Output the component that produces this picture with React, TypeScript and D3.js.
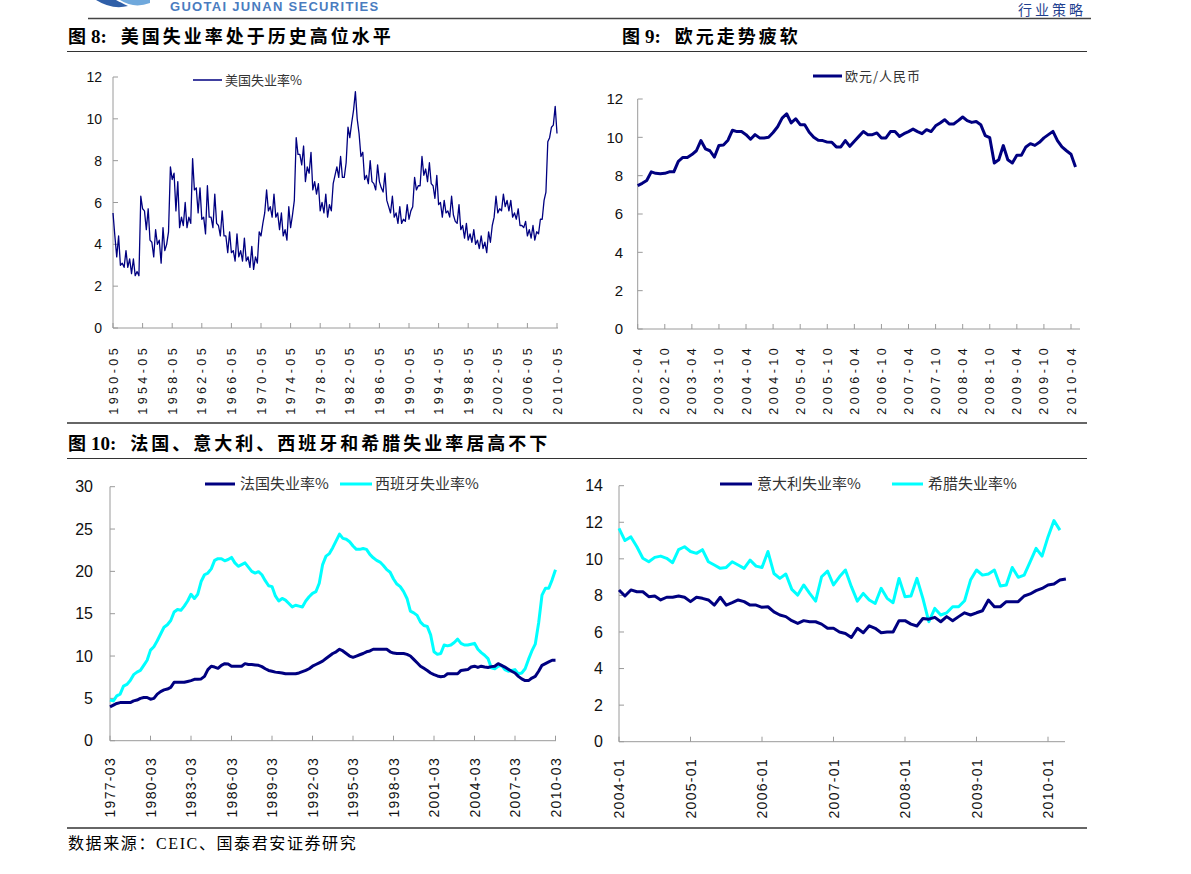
import React from 'react';
import * as d3 from 'd3';

// ---------- DATA ----------
// US unemployment (NSA), sampled every 3 months from 1950-05 (Feb/May/Aug/Nov)
const usStartYear = 1950;
const usStartMonth = 5;
const usValues = [
  5.5, 4.4, 3.4,
  4.4, 3.0, 3.1, 2.9,
  3.7, 2.9, 3.3, 2.6,
  3.3, 2.5, 2.7, 2.5,
  6.3, 5.7, 5.6, 4.7,
  5.7, 4.2, 4.1, 3.4,
  4.7, 4.0, 4.2, 3.1,
  4.8, 3.7, 4.0, 4.6,
  7.7, 7.1, 7.4, 5.6,
  7.0, 4.8, 5.3, 4.9,
  6.0, 4.8, 5.3, 5.0,
  8.1, 6.6, 6.7, 5.5,
  6.7, 5.2, 5.3, 4.5,
  6.8, 5.3, 5.3, 4.8,
  6.4, 5.0, 4.9, 4.4,
  5.6, 4.4, 4.4, 3.6,
  4.6, 3.6, 3.7, 3.2,
  4.5, 3.4, 3.7, 3.2,
  4.3, 3.2, 3.4, 2.9,
  3.9, 2.8, 3.4, 3.1,
  4.6, 4.4, 5.0, 5.5,
  6.6, 5.6, 5.8, 5.3,
  6.4, 5.3, 5.5, 4.7,
  5.5, 4.4, 4.7, 4.2,
  5.8, 4.8, 5.4, 6.1,
  9.1, 8.3, 8.3, 7.8,
  8.7, 7.0, 7.7, 7.4,
  8.4, 6.6, 7.0, 6.4,
  6.9, 5.6, 6.0, 5.5,
  6.4, 5.3, 5.9, 5.6,
  6.9, 7.3, 7.7, 7.2,
  8.2, 7.2, 7.2, 7.9,
  9.6, 9.1, 9.8, 10.4,
  11.3, 10.0, 9.3, 8.2,
  8.4, 7.1, 7.3, 6.9,
  8.0, 7.0, 6.9, 6.6,
  7.8, 7.0, 6.7, 6.5,
  7.4, 6.1, 5.8, 5.5,
  6.3, 5.3, 5.5, 5.0,
  5.8, 5.0, 5.2, 5.1,
  5.9, 5.2, 5.6, 5.8,
  7.2, 6.6, 6.8, 6.8,
  8.2, 7.3, 7.6, 7.0,
  7.9, 6.9, 6.8, 6.2,
  7.3, 5.9, 6.0, 5.3,
  6.1, 5.5, 5.6, 5.3,
  6.3, 5.4, 5.1, 5.0,
  5.9, 4.7, 4.9, 4.3,
  5.0, 4.2, 4.5, 4.1,
  4.7, 4.0, 4.2, 3.8,
  4.4, 3.8, 4.1, 3.6,
  4.6, 4.1, 4.9, 5.3,
  6.3, 5.5, 5.7, 5.6,
  6.4, 5.8, 6.1, 5.6,
  6.1, 5.3, 5.5, 5.2,
  5.7, 4.9, 4.9, 4.8,
  5.1, 4.4, 4.7, 4.3,
  4.9, 4.2, 4.6, 4.5,
  5.2, 5.2, 6.1, 6.5,
  8.9, 9.1, 9.6, 9.7,
  10.6, 9.3,
];
const usTickLabels = ['1950-05', '1954-05', '1958-05', '1962-05', '1966-05', '1970-05', '1974-05', '1978-05',
  '1982-05', '1986-05', '1990-05', '1994-05', '1998-05', '2002-05', '2006-05', '2010-05'];
const usYTicks = [0, 2, 4, 6, 8, 10, 12];

// EUR/CNY monthly from 2002-04
const eurValues = [
  7.48, 7.6, 7.75, 8.2, 8.12, 8.1, 8.12, 8.2, 8.2, 8.75, 8.95, 8.95,
  9.1, 9.3, 9.83, 9.4, 9.3, 8.97, 9.58, 9.6, 9.85, 10.37, 10.3, 10.3,
  10.14, 9.9, 10.14, 9.97, 9.97, 10.0, 10.25, 10.55, 11.0, 11.23, 10.75, 10.97,
  10.66, 10.66, 10.26, 10.0, 9.85, 9.83, 9.75, 9.74, 9.5, 9.5, 9.83, 9.53,
  9.8, 10.05, 10.3, 10.14, 10.14, 10.23, 9.97, 9.97, 10.3, 10.3, 10.05, 10.19,
  10.3, 10.43, 10.3, 10.19, 10.4, 10.3, 10.6, 10.75, 10.92, 10.7, 10.7, 10.87,
  11.06, 10.87, 10.78, 10.83, 10.66, 10.09, 9.98, 8.66, 8.83, 9.57, 8.83, 8.66,
  9.06, 9.06, 9.5, 9.67, 9.58, 9.74, 9.97, 10.14, 10.31, 9.83, 9.5, 9.3,
  9.12, 8.45,
];
const eurTickLabels = ['2002-04', '2002-10', '2003-04', '2003-10', '2004-04', '2004-10', '2005-04', '2005-10',
  '2006-04', '2006-10', '2007-04', '2007-10', '2008-04', '2008-10', '2009-04', '2009-10', '2010-04'];
const eurYTicks = [0, 2, 4, 6, 8, 10, 12];

// France & Spain quarterly from 1977-03
const frValues = [
  4.0, 4.2, 4.4, 4.5, 4.5, 4.5, 4.5, 4.7, 4.8, 5.0, 5.1, 5.1,
  4.9, 5.0, 5.5, 5.8, 6.0, 6.1, 6.3, 6.9, 6.9, 6.9, 6.9, 7.0,
  7.1, 7.25, 7.25, 7.3, 7.6, 8.4, 8.8, 8.7, 8.55, 8.9, 9.1, 9.05,
  8.8, 8.8, 8.8, 8.8, 9.1, 9.0, 9.0, 8.95, 8.9, 8.75, 8.5, 8.3,
  8.2, 8.1, 8.05, 8.0, 7.9, 7.9, 7.9, 7.9, 8.0, 8.15, 8.3, 8.5,
  8.8, 9.0, 9.2, 9.4, 9.7, 10.0, 10.3, 10.5, 10.8, 10.6, 10.3, 10.0,
  9.85, 10.0, 10.15, 10.3, 10.5, 10.6, 10.8, 10.8, 10.8, 10.8, 10.8, 10.5,
  10.35, 10.3, 10.3, 10.3, 10.2, 10.0, 9.6, 9.2, 8.8, 8.55, 8.3, 8.0,
  7.8, 7.65, 7.55, 7.6, 7.9, 7.9, 7.9, 7.9, 8.3, 8.35, 8.4, 8.7,
  8.8, 8.65, 8.8, 8.7, 8.65, 8.75, 8.8, 9.1, 8.9, 8.7, 8.45, 8.2,
  8.0, 7.6, 7.3, 7.1, 7.1, 7.4, 7.6, 8.2, 8.9, 9.1, 9.3, 9.5,
  9.5,
];
const esValues = [
  4.8, 4.7, 5.3, 5.5, 6.45, 6.65, 7.1, 7.8, 8.1, 8.3, 8.9, 9.5,
  10.7, 11.1, 11.8, 12.6, 13.4, 13.7, 14.2, 15.2, 15.5, 15.4, 15.9, 16.5,
  17.3, 16.8, 17.3, 18.8, 19.6, 19.8, 20.3, 21.3, 21.5, 21.5, 21.25, 21.4,
  21.65, 21.0, 20.6, 20.8, 21.0, 20.5, 20.0, 19.8, 19.96, 19.6, 18.9, 18.3,
  18.2, 17.1, 16.5, 16.8, 16.6, 16.2, 15.8, 16.0, 15.9, 15.8, 16.5, 17.0,
  17.4, 17.6, 18.6, 20.8, 21.8, 22.1, 22.8, 23.6, 24.4, 23.9, 23.8, 23.5,
  23.0, 22.6, 22.6, 22.7, 22.6, 22.0, 21.6, 21.3, 21.1, 20.7, 20.2, 19.9,
  19.1, 18.5, 18.2, 17.6, 16.8, 15.3, 15.1, 14.8, 14.0, 13.6, 13.5, 12.5,
  10.5, 10.2, 10.3, 11.3, 11.2, 11.3, 11.6, 12.0, 11.5, 11.3, 11.3, 11.4,
  11.5, 10.8, 10.4, 10.1, 9.7, 8.6, 8.5, 8.8, 8.9, 8.4, 8.2, 8.3,
  8.4, 7.9, 8.0, 8.5, 9.6, 10.6, 11.4, 13.9, 17.2, 18.0, 18.0, 19.0,
  20.2,
];
const feTickLabels = ['1977-03', '1980-03', '1983-03', '1986-03', '1989-03', '1992-03', '1995-03', '1998-03',
  '2001-03', '2004-03', '2007-03', '2010-03'];
const feYTicks = [0, 5, 10, 15, 20, 25, 30];

// Italy & Greece monthly from 2004-01
const itValues = [
  8.3, 7.97, 8.3, 8.2, 8.2, 7.93, 7.97, 7.75, 7.9, 7.9, 7.97, 7.9,
  7.66, 7.9, 7.84, 7.75, 7.47, 7.9, 7.47, 7.6, 7.75, 7.66, 7.47, 7.47,
  7.35, 7.38, 7.1, 6.93, 6.84, 6.62, 6.47, 6.62, 6.56, 6.56, 6.43, 6.2,
  6.2, 6.0, 5.92, 5.7, 6.2, 5.96, 6.34, 6.2, 5.96, 6.0, 6.0, 6.62,
  6.62, 6.43, 6.33, 6.74, 6.7, 6.8, 6.56, 6.84, 6.62, 6.84, 7.05, 6.93,
  7.05, 7.16, 7.75, 7.38, 7.38, 7.66, 7.66, 7.66, 7.97, 8.08, 8.26, 8.38,
  8.57, 8.62, 8.84, 8.9,
];
const grValues = [
  11.67, 11.0, 11.2, 10.66, 10.03, 9.84, 10.08, 10.15, 10.03, 9.79, 10.5, 10.66,
  10.4, 10.3, 10.5, 9.84, 9.66, 9.48, 9.53, 9.84, 9.66, 9.48, 9.93, 9.6,
  9.53, 10.4, 9.2, 8.93, 9.17, 8.33, 8.02, 8.57, 8.11, 7.69, 9.02, 9.33,
  8.57, 9.02, 9.39, 8.48, 7.69, 8.11, 7.75, 7.56, 8.39, 7.84, 7.6, 8.93,
  7.93, 7.97, 8.93, 7.84, 6.56, 7.29, 6.93, 7.05, 7.38, 7.38, 7.71, 8.84,
  9.39, 9.11, 9.17, 9.39, 8.51, 8.57, 9.53, 8.99, 9.11, 9.84, 10.57, 10.15,
  11.2, 12.09, 11.57,
];
const igTickLabels = ['2004-01', '2005-01', '2006-01', '2007-01', '2008-01', '2009-01', '2010-01'];
const igYTicks = [0, 2, 4, 6, 8, 10, 12, 14];

// ---------- STYLE ----------
const NAVY = '#000080';
const CYAN = '#00FFFF';
const AXIS = '#9a9a9a';
const NUM_FONT = '"Liberation Sans", Arial, sans-serif';
const CJK_FONT = '"Noto Sans CJK SC", "Noto Sans", sans-serif';
const TITLE_FONT = '"Liberation Serif", "Noto Sans CJK SC", serif';

type YAxisProps = { x: number; scale: d3.ScaleLinear<number, number>; ticks: number[]; fontSize: number; gap: number };
function YAxis({ x, scale, ticks, fontSize, gap }: YAxisProps) {
  return (
    <g>
      <line x1={x} x2={x} y1={scale(ticks[ticks.length - 1])} y2={scale(0)} stroke={AXIS} strokeWidth={1} />
      {ticks.map((t) => (
        <g key={t}>
          <line x1={x} x2={x + 5} y1={scale(t)} y2={scale(t)} stroke={AXIS} />
          <text x={x - gap} y={scale(t)} dy="0.36em" textAnchor="end" fontSize={fontSize} fontFamily={NUM_FONT} fill="#111">
            {t}
          </text>
        </g>
      ))}
    </g>
  );
}

type XAxisProps = {
  y: number; x0: number; x1: number; positions: number[]; labels: string[];
  labelTop: number; fontSize: number; spacing: number;
};
function XAxis({ y, x0, x1, positions, labels, labelTop, fontSize, spacing }: XAxisProps) {
  return (
    <g>
      <line x1={x0} x2={x1} y1={y} y2={y} stroke={AXIS} />
      {positions.map((p, i) => (
        <g key={i}>
          <line x1={p} x2={p} y1={y} y2={y - 5} stroke={AXIS} />
          <text
            transform={`translate(${p},${labelTop}) rotate(-90)`}
            textAnchor="end"
            dy="0.36em"
            fontSize={fontSize}
            letterSpacing={spacing}
            fontFamily={NUM_FONT}
            fill="#111"
          >
            {labels[i]}
          </text>
        </g>
      ))}
    </g>
  );
}

function Title({ x, y, num, text }: { x: number; y: number; num: string; text: string }) {
  return (
    <text x={x} y={y} fontSize={18} fontFamily={TITLE_FONT} fill="#000">
      <tspan fontFamily={CJK_FONT} fontWeight="bold">图</tspan>
      <tspan dx={5} fontWeight="bold" fontFamily='"Liberation Serif", serif' fontSize={19}>{num}:</tspan>
      <tspan dx={14} fontFamily={CJK_FONT} fontWeight="bold" letterSpacing={3}>{text}</tspan>
    </text>
  );
}

export default function App() {
  // Panel 1: US unemployment
  const usDates = usValues.map((_, i) => new Date(usStartYear, usStartMonth - 1 + 3 * i, 1));
  const usX = d3.scaleTime().domain([new Date(1950, 4, 1), new Date(2010, 4, 1)]).range([113, 557]);
  const usY = d3.scaleLinear().domain([0, 12]).range([328, 77]);
  const usLine = d3.line<number>().x((_, i) => usX(usDates[i])).y((d) => usY(d));
  const usTickPos = usTickLabels.map((l) => {
    const [yy, mm] = l.split('-').map(Number);
    return usX(new Date(yy, mm - 1, 1));
  });

  // Panel 2: EUR/CNY
  const eurX = d3.scaleLinear().domain([0, 96]).range([637.7, 1071]);
  const eurY = d3.scaleLinear().domain([0, 12]).range([329, 99]);
  const eurLine = d3.line<number>().x((_, i) => eurX(i)).y((d) => eurY(d));
  const eurTickPos = eurTickLabels.map((_, i) => eurX(i * 6));

  // Panel 3: France / Spain
  const feX = d3.scaleLinear().domain([0, 132]).range([110, 555.5]);
  const feY = d3.scaleLinear().domain([0, 30]).range([740.7, 486.7]);
  const feLine = d3.line<number>().x((_, i) => feX(i)).y((d) => feY(d));
  const feTickPos = feTickLabels.map((_, i) => feX(i * 12));

  // Panel 4: Italy / Greece
  const igX = d3.scaleLinear().domain([0, 72]).range([619, 1048]);
  const igY = d3.scaleLinear().domain([0, 14]).range([741.7, 485.7]);
  const igLine = d3.line<number>().x((_, i) => igX(i)).y((d) => igY(d));
  const igTickPos = igTickLabels.map((_, i) => igX(i * 12));

  return (
    <svg
      width={1191}
      height={874}
      viewBox="0 0 1191 874"
      style={{ position: 'absolute', left: 0, top: 0, background: '#fff' }}
    >
      <rect x={0} y={0} width={1191} height={874} fill="#fff" />

      {/* header */}
      <path d="M96,0 Q112,10 128,6 Q120,2 116,0 Z" fill="#2f5fa8" />
      <path d="M120,0 Q134,9 150,3 L150,0 Z" fill="#6fa8dc" />
      <text x={170} y={11} fontSize={13} fontWeight="bold" fontFamily={NUM_FONT} fill="#4a7cbf" letterSpacing={1.3}>
        GUOTAI JUNAN SECURITIES
      </text>
      <text x={1018} y={15} fontSize={14} fontFamily={CJK_FONT} fill="#1f3f8f" letterSpacing={3}>行业策略</text>
      <line x1={88} x2={1091} y1={18.5} y2={18.5} stroke="#444" strokeWidth={1.5} />

      {/* titles */}
      <Title x={68} y={43} num="8" text="美国失业率处于历史高位水平" />
      <Title x={622} y={43} num="9" text="欧元走势疲软" />
      <line x1={67} x2={1087} y1={51.5} y2={51.5} stroke="#333" strokeWidth={1} />

      {/* Panel 1 */}
      <YAxis x={113} scale={usY} ticks={usYTicks} fontSize={14} gap={11} />
      <XAxis y={328} x0={113} x1={558} positions={usTickPos} labels={usTickLabels} labelTop={345} fontSize={12.5} spacing={3.4} />
      <path d={usLine(usValues) || ''} fill="none" stroke={NAVY} strokeWidth={1.3} strokeLinejoin="round" />
      <line x1={193} x2={222} y1={80} y2={80} stroke={NAVY} strokeWidth={1.5} />
      <text x={225} y={80} dy="0.36em" fontSize={13} fontFamily={CJK_FONT} fill="#333">美国失业率%</text>

      {/* Panel 2 */}
      <YAxis x={637.7} scale={eurY} ticks={eurYTicks} fontSize={15} gap={14.5} />
      <XAxis y={329} x0={637.7} x1={1080} positions={eurTickPos} labels={eurTickLabels} labelTop={345} fontSize={12.5} spacing={3.4} />
      <path d={eurLine(eurValues) || ''} fill="none" stroke={NAVY} strokeWidth={3} strokeLinejoin="round" />
      <line x1={813} x2={842} y1={76} y2={76} stroke={NAVY} strokeWidth={3} />
      <text x={845} y={76} dy="0.36em" fontSize={13} fontFamily={CJK_FONT} fill="#333" letterSpacing={1}>欧元/人民币</text>

      <line x1={67} x2={1087} y1={423} y2={423} stroke="#666" strokeWidth={2} />

      {/* bottom title */}
      <Title x={68} y={450} num="10" text="法国、意大利、西班牙和希腊失业率居高不下" />
      <line x1={67} x2={1087} y1={458.5} y2={458.5} stroke="#333" strokeWidth={1} />

      {/* Panel 3 */}
      <YAxis x={110} scale={feY} ticks={feYTicks} fontSize={16} gap={17} />
      <XAxis y={740.7} x0={110} x1={556} positions={feTickPos} labels={feTickLabels} labelTop={757} fontSize={14} spacing={1.3} />
      <path d={feLine(esValues) || ''} fill="none" stroke={CYAN} strokeWidth={3} strokeLinejoin="round" />
      <path d={feLine(frValues) || ''} fill="none" stroke={NAVY} strokeWidth={3} strokeLinejoin="round" />
      <line x1={205} x2={235} y1={484} y2={484} stroke={NAVY} strokeWidth={3} />
      <text x={240} y={484} dy="0.36em" fontSize={15} fontFamily={CJK_FONT} fill="#333">法国失业率%</text>
      <line x1={340} x2={372} y1={484} y2={484} stroke={CYAN} strokeWidth={3} />
      <text x={375} y={484} dy="0.36em" fontSize={15} fontFamily={CJK_FONT} fill="#333">西班牙失业率%</text>

      {/* Panel 4 */}
      <YAxis x={619} scale={igY} ticks={igYTicks} fontSize={16} gap={16} />
      <XAxis y={741.7} x0={619} x1={1065} positions={igTickPos} labels={igTickLabels} labelTop={758} fontSize={14} spacing={1.3} />
      <path d={igLine(grValues) || ''} fill="none" stroke={CYAN} strokeWidth={3} strokeLinejoin="round" />
      <path d={igLine(itValues) || ''} fill="none" stroke={NAVY} strokeWidth={3} strokeLinejoin="round" />
      <line x1={720} x2={752} y1={484} y2={484} stroke={NAVY} strokeWidth={3} />
      <text x={757} y={484} dy="0.36em" fontSize={15} fontFamily={CJK_FONT} fill="#333">意大利失业率%</text>
      <line x1={892} x2={923} y1={484} y2={484} stroke={CYAN} strokeWidth={3} />
      <text x={928} y={484} dy="0.36em" fontSize={15} fontFamily={CJK_FONT} fill="#333">希腊失业率%</text>

      <line x1={67} x2={1087} y1={828} y2={828} stroke="#666" strokeWidth={2} />

      {/* source */}
      <text x={68} y={849} fontSize={16} fontFamily={CJK_FONT} fill="#000" letterSpacing={1.6}>
        数据来源：<tspan fontFamily='"Liberation Serif", serif'>CEIC</tspan>、国泰君安证券研究
      </text>
    </svg>
  );
}
